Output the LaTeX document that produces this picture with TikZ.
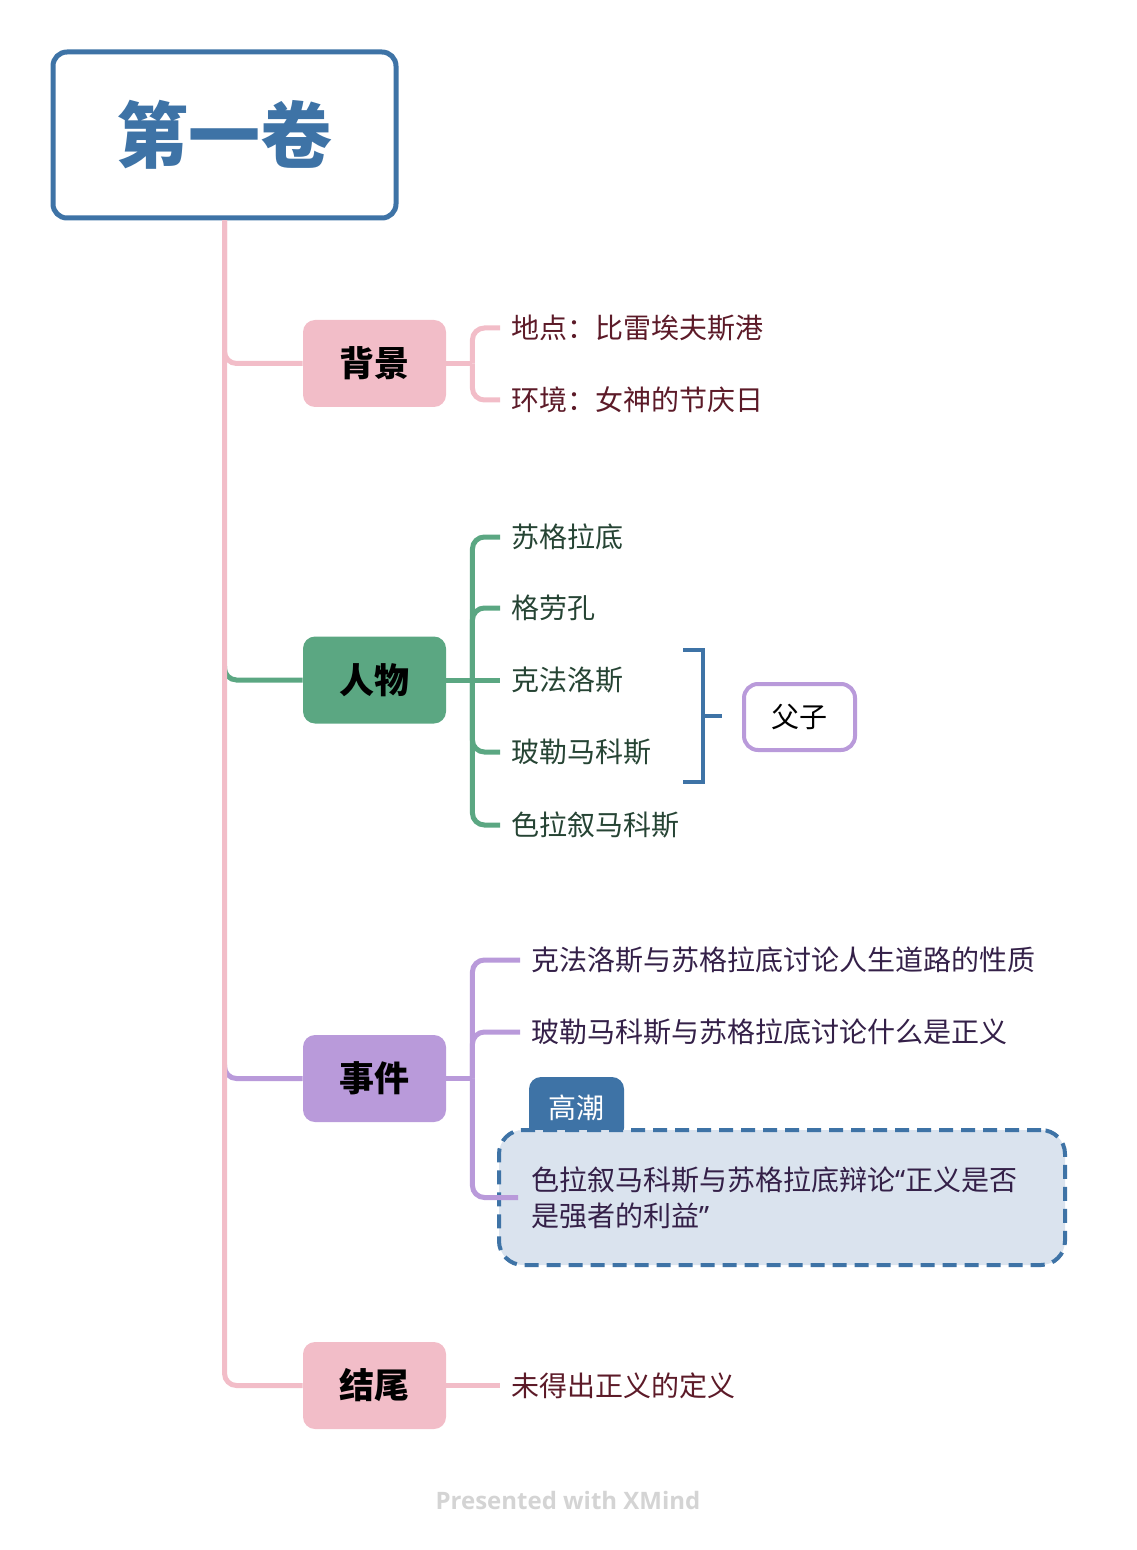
\documentclass[tikz,border=0pt]{standalone}
\usepackage{fontspec}
\newfontfamily\cjk{Noto Sans CJK SC}
\newfontfamily\latin{Noto Sans}
\newfontfamily\xmfont{Open Sans}
\usetikzlibrary{calc}

\definecolor{xblue}{RGB}{62,115,166}
\definecolor{xpink}{RGB}{242,189,200}
\definecolor{xgreen}{RGB}{91,167,130}
\definecolor{xpurple}{RGB}{185,154,218}
\definecolor{xcallout}{RGB}{218,227,238}
\definecolor{txred}{RGB}{92,26,40}
\definecolor{txgreen}{RGB}{38,68,52}
\definecolor{txpurple}{RGB}{52,32,72}
\definecolor{xgray}{RGB}{212,212,212}

\begin{document}
\begin{tikzpicture}[x=0.5pt,y=-0.5pt,
	root/.style={draw=xblue,line width=2.5pt,rounded corners=7pt,fill=white,
		minimum width=171.5pt,minimum height=83pt,text=xblue,
		font=\cjk\bfseries\fontsize{36}{40}\selectfont},
	topic/.style={fill=#1,rounded corners=6pt,minimum width=71.5pt,minimum height=43.5pt,
		font=\cjk\bfseries\fontsize{17.5}{20}\selectfont},
	leaf/.style={anchor=west,inner xsep=5.5pt,inner ysep=0pt,text=#1,
		font=\cjk\fontsize{14}{18}\selectfont},
	branch/.style={draw=#1,line width=2.5pt,rounded corners=6pt},
	pairbox/.style={draw=xpurple,line width=2pt,rounded corners=7pt,fill=white,
		minimum width=55.5pt,minimum height=33pt,font=\cjk\fontsize{14}{18}\selectfont},
	tab/.style={fill=xblue,text=white,rounded corners=6pt,minimum width=47.5pt,minimum height=31.5pt,
		font=\cjk\fontsize{14}{18}\selectfont},
	callout/.style={draw=xblue,fill=xcallout,line width=2pt,dash pattern=on 7pt off 4pt,
		rounded corners=12pt,minimum width=283pt,minimum height=67.5pt,inner xsep=16pt,
		text width=251pt,align=left,text=txpurple,font=\cjk\fontsize{14}{18}\selectfont}]

	\useasboundingbox (0,0) rectangle (1136,1550);

	% central topic and main topics
	\node[root] (root) at (224.5,135) {第一卷};
	\node[topic=xpink] (bg) at (374.5,363.5) {背景};
	\node[topic=xgreen] (rw) at (374.5,680) {人物};
	\node[topic=xpurple] (ev) at (374.5,1078.5) {事件};
	\node[topic=xpink] (end) at (374.5,1385.5) {结尾};

	% trunk
	\draw[branch=xgreen] ($(root.south |- rw.west)+(0,-14)$) |- (rw.west);
	\draw[branch=xpurple] ($(root.south |- ev.west)+(0,-14)$) |- (ev.west);
	\draw[branch=xpink] (root.south) |- (bg.west);
	\draw[branch=xpink] (root.south) |- (end.west);

	% background
	\node[leaf=txred] (bg1) at (500,328) {地点：比雷埃夫斯港};
	\node[leaf=txred] (bg2) at (500,400) {环境：女神的节庆日};
	\coordinate (bgj) at ($(bg.east)+(26,0)$);
	\draw[branch=xpink] (bg.east) -- (bgj);
	\draw[branch=xpink] (bgj) |- (bg1.west);
	\draw[branch=xpink] (bgj) |- (bg2.west);

	% persons
	\node[leaf=txgreen] (rw1) at (500,537) {苏格拉底};
	\node[leaf=txgreen] (rw2) at (500,608) {格劳孔};
	\node[leaf=txgreen] (rw3) at (500,680) {克法洛斯};
	\node[leaf=txgreen] (rw4) at (500,752) {玻勒马科斯};
	\node[leaf=txgreen] (rw5) at (500,825) {色拉叙马科斯};
	\coordinate (rwj) at ($(rw.east)+(26,0)$);
	\draw[branch=xgreen] (rw.east) -- (rw3.west);
	\foreach \k in {1,2,4,5}
		\draw[branch=xgreen] (rwj) |- (rw\k.west);

	% father and son
	\node[pairbox] (fz) at (799.5,717) {父子};
	\coordinate (brtop) at (683,650);
	\coordinate (brbot) at (683,782);
	\coordinate (brmid) at (703,716);
	\coordinate (brtip) at (722,716);
	\draw[xblue,line width=2pt] (brtop) -| (brmid) |- (brbot);
	\draw[xblue,line width=2pt] (brmid) -- (brtip);

	% events
	\node[leaf=txpurple] (ev1) at (520,960) {克法洛斯与苏格拉底讨论人生道路的性质};
	\node[leaf=txpurple] (ev2) at (520,1032) {玻勒马科斯与苏格拉底讨论什么是正义};
	\node[tab] (hi) at (576.5,1108.5) {\raisebox{2pt}{高潮}};
	\node[callout] (ev3) at (782,1197.5) {色拉叙马科斯与苏格拉底辩论{\latin “}正义是否\\是强者的利益{\latin ”}};
	\coordinate (evj) at ($(ev.east)+(26,0)$);
	\draw[branch=xpurple] (ev.east) -- (evj);
	\draw[branch=xpurple] (evj) |- (ev1.west);
	\draw[branch=xpurple] (evj) |- (ev2.west);
	\draw[branch=xpurple] (evj) |- ([xshift=10.5pt]ev3.west);

	% ending
	\node[leaf=txred] (end1) at (500,1385.5) {未得出正义的定义};
	\draw[branch=xpink] (end.east) -- (end1.west);

	\node[text=xgray,font=\xmfont\bfseries\fontsize{12}{15}\selectfont] (mark) at (568,1500) {Presented with XMind};
\end{tikzpicture}
\end{document}
